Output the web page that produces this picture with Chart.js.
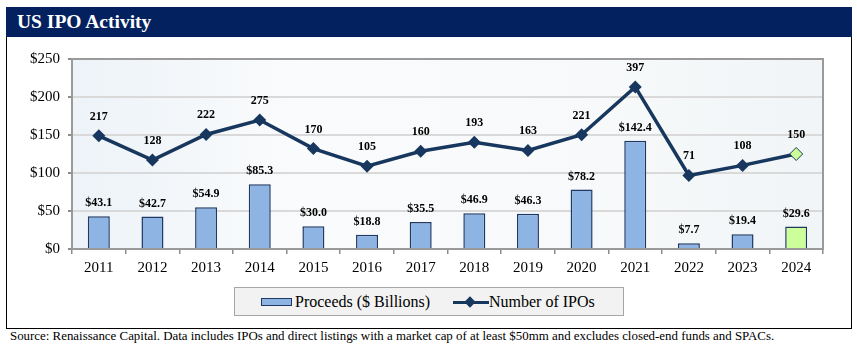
<!DOCTYPE html>
<html>
<head>
<meta charset="utf-8">
<title>US IPO Activity</title>
<script src="https://cdn.jsdelivr.net/npm/chart.js@4.4.1/dist/chart.umd.min.js"></script>
<style>
    html, body { margin: 0; padding: 0; background: #fff; }
    body { width: 857px; height: 347px; position: relative; overflow: hidden; font-family: 'Liberation Serif', 'DejaVu Serif', serif; }
    .frame { position: absolute; left: 6px; top: 7px; width: 844px; height: 320px; border: 1.5px solid #000; }
    .header { position: absolute; left: 6px; top: 7px; width: 846px; height: 30px; background: #03215f; }
    .header h1 { margin: 0; position: absolute; left: 11px; top: 3px; font-size: 19.5px; font-weight: bold; color: #fff; line-height: 24px; }
    .chart-wrap { position: absolute; left: 8px; top: 37px; width: 843px; height: 249px; }
    .legend { position: absolute; left: 234px; top: 287px; width: 388px; height: 27px; background: #f2f2f2; border: 1.5px solid #a6a6a6; }
    .legend .item { position: absolute; top: 0; height: 27px; line-height: 28px; font-size: 16px; color: #000; white-space: nowrap; }
    .legend .bar-icon { position: absolute; left: 26px; top: 10px; width: 29px; height: 6px; background: #8eb4e3; border: 1.5px solid #1f3864; }
    .legend .line-icon { position: absolute; left: 218px; top: 12.5px; width: 36px; height: 3.5px; background: #17375e; }
    .legend .diamond { position: absolute; left: 231px; top: 9.5px; width: 8px; height: 8px; background: #17375e; transform: rotate(45deg); }
    .source { position: absolute; left: 10px; top: 329px; font-size: 12.9px; color: #000; white-space: nowrap; }
</style>
</head>
<body>
<div class="frame"></div>
<div class="header"><h1>US IPO Activity</h1></div>
<div class="chart-wrap"><canvas id="ipoChart" width="843" height="249"></canvas></div>
<div class="legend">
    <span class="bar-icon"></span>
    <span class="item" style="left: 60px;">Proceeds ($ Billions)</span>
    <span class="line-icon"></span>
    <span class="diamond"></span>
    <span class="item" style="left: 254px;">Number of IPOs</span>
</div>
<div class="source">Source: Renaissance Capital. Data includes IPOs and direct listings with a market cap of at least $50mm and excludes closed-end funds and SPACs.</div>

<script>
const years = ['2011', '2012', '2013', '2014', '2015', '2016', '2017', '2018', '2019', '2020', '2021', '2022', '2023', '2024'];
const proceeds = [43.1, 42.7, 54.9, 85.3, 30.0, 18.8, 35.5, 46.9, 46.3, 78.2, 142.4, 7.7, 19.4, 29.6];
const ipoCounts = [217, 128, 222, 275, 170, 105, 160, 193, 163, 221, 397, 71, 108, 150];
const proceedsTicks = [0, 50, 100, 150, 200, 250];

const SERIF = 'Liberation Serif, serif';

document.addEventListener('DOMContentLoaded', async () => {
    const NAVY = '#17375e';
    const BAR_BLUE = '#8eb4e3';
    const HIGHLIGHT = '#ccff99';
    const last = years.length - 1;

    try {
        await Promise.all([
            document.fonts.load('15px "Liberation Serif"'),
            document.fonts.load('bold 12px "Liberation Serif"')
        ]);
    } catch (e) {
        console.error('font load failed', e);
    }

    Chart.defaults.font.family = SERIF;
    Chart.defaults.color = '#000';

    // pale fill behind the plot, plus the grey outline on top
    const plotFrame = {
        id: 'plotFrame',
        beforeDraw(chart) {
            const { ctx, chartArea: a } = chart;
            const g = ctx.createLinearGradient(a.left, 0, a.right, 0);
            g.addColorStop(0, '#edf3f8');
            g.addColorStop(0.3, '#fafbfc');
            g.addColorStop(0.7, '#f7f9fa');
            g.addColorStop(1, '#f1f5f7');
            ctx.save();
            ctx.fillStyle = g;
            ctx.fillRect(a.left, a.top, a.right - a.left, a.bottom - a.top);
            ctx.restore();
        },
        afterDraw(chart) {
            const { ctx, chartArea: a } = chart;
            ctx.save();
            ctx.strokeStyle = '#9a9a9a';
            ctx.lineWidth = 2;
            ctx.strokeRect(a.left, a.top, a.right - a.left, a.bottom - a.top);
            ctx.restore();
        }
    };

    // value labels above bars (dataset 0) and markers (dataset 1)
    const valueLabels = {
        id: 'valueLabels',
        afterDatasetsDraw(chart) {
            const { ctx } = chart;
            ctx.save();
            ctx.font = 'bold 12px ' + SERIF;
            ctx.fillStyle = '#000';
            ctx.textAlign = 'center';
            ctx.textBaseline = 'alphabetic';
            chart.getDatasetMeta(0).data.forEach((el, i) => {
                ctx.fillText('$' + proceeds[i].toFixed(1), el.x, el.y - 10);
            });
            chart.getDatasetMeta(1).data.forEach((el, i) => {
                ctx.fillText(String(ipoCounts[i]), el.x, el.y - 16);
            });
            ctx.restore();
        }
    };

    const ctx = document.getElementById('ipoChart').getContext('2d');
    new Chart(ctx, {
        data: {
            labels: years,
            datasets: [
                {
                    type: 'bar',
                    label: 'Proceeds ($ Billions)',
                    data: proceeds,
                    yAxisID: 'y',
                    backgroundColor: years.map((_, i) => i === last ? HIGHLIGHT : BAR_BLUE),
                    borderColor: '#1f3864',
                    borderWidth: 1.5,
                    categoryPercentage: 1,
                    barPercentage: 0.41,
                    order: 2
                },
                {
                    type: 'line',
                    label: 'Number of IPOs',
                    data: ipoCounts,
                    yAxisID: 'y1',
                    borderColor: NAVY,
                    borderWidth: 3.5,
                    tension: 0,
                    pointStyle: 'rectRot',
                    pointRadius: 6.5,
                    pointBackgroundColor: years.map((_, i) => i === last ? HIGHLIGHT : NAVY),
                    pointBorderColor: NAVY,
                    pointBorderWidth: years.map((_, i) => i === last ? 1 : 0),
                    order: 1
                }
            ]
        },
        options: {
            responsive: false,
            animation: false,
            layout: { padding: { top: 22, right: 28, left: 0, bottom: 0 } },
            plugins: {
                legend: { display: false },
                tooltip: { enabled: false }
            },
            scales: {
                x: {
                    grid: { offset: true, drawOnChartArea: false, tickLength: 5, tickColor: '#8c8c8c', lineWidth: 1.5 },
                    border: { color: '#8c8c8c', width: 2 },
                    ticks: { color: '#000', padding: 5, font: { family: SERIF, size: 15 } },
                    afterFit: (scale) => { scale.height = 37; }
                },
                y: {
                    min: proceedsTicks[0],
                    max: proceedsTicks[proceedsTicks.length - 1],
                    afterBuildTicks: (scale) => { scale.ticks = proceedsTicks.map(v => ({ value: v })); },
                    grid: { color: '#d9d9d9', lineWidth: 2, tickLength: 4, tickColor: '#8c8c8c' },
                    border: { color: '#8c8c8c', width: 2 },
                    ticks: {
                        color: '#000',
                        padding: 8,
                        font: { family: SERIF, size: 15 },
                        callback: (v) => '$' + v
                    },
                    afterFit: (scale) => { scale.width = 64; }
                },
                y1: {
                    display: false,
                    min: -200,
                    max: 500
                }
            }
        },
        plugins: [plotFrame, valueLabels]
    });
});
</script>
</body>
</html>
